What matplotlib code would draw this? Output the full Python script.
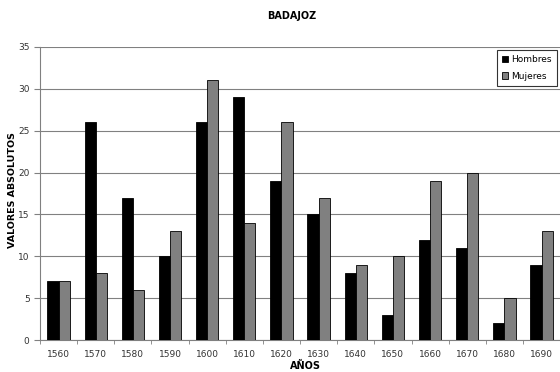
import numpy as np
import matplotlib.pyplot as plt

# Datos
anios = ["1560", "1570", "1580", "1590", "1600", "1610", "1620",
         "1630", "1640", "1650", "1660", "1670", "1680", "1690"]
hombres = [7, 26, 17, 10, 26, 29, 19, 15, 8, 3, 12, 11, 2, 9]
mujeres = [7, 8, 6, 13, 31, 14, 26, 17, 9, 10, 19, 20, 5, 13]

x = np.arange(len(anios))
w = 0.3

fig = plt.figure(figsize=(5.6, 3.72), dpi=100)
fig.patch.set_facecolor("white")

# the plot area runs past the right edge of the picture
ax = fig.add_axes([40 / 560, 32 / 372, 15 * 37.15 / 560, 293 / 372])

ax.bar(x - w / 2, hombres, w, color="black", edgecolor="black", linewidth=0.6,
       label="Hombres", zorder=3)
ax.bar(x + w / 2, mujeres, w, color="#808080", edgecolor="black", linewidth=0.6,
       label="Mujeres", zorder=3)

ax.set_xlim(-0.5, 14.5)
ax.set_ylim(0, 35)
ax.set_yticks(range(0, 36, 5))
ax.yaxis.grid(True, color="#808080", linewidth=0.8, zorder=0)

# group labels centred, tick marks between groups
ax.set_xticks(x)
ax.set_xticklabels(anios, fontsize=6.5, color="#333333")
ax.set_xticks(np.arange(-0.5, 14.5, 1), minor=True)
ax.tick_params(axis="x", which="major", length=0, pad=7)
ax.tick_params(axis="x", which="minor", length=3, color="#808080", direction="out")
ax.tick_params(axis="y", labelsize=6.5, labelcolor="#333333", length=4,
               color="#808080", direction="out")

for s in ["top", "right"]:
    ax.spines[s].set_visible(False)
ax.spines["left"].set_color("#808080")
ax.spines["bottom"].set_color("#808080")

fig.text(292 / 560, 1 - 16 / 372, "BADAJOZ", ha="center", va="center",
         fontsize=7, fontweight="bold")
fig.text(13 / 560, 1 - 190 / 372, "VALORES ABSOLUTOS", ha="center", va="center",
         rotation=90, fontsize=6.8, fontweight="bold")
fig.text(305 / 560, 1 - 366 / 372, "AÑOS", ha="center", va="center",
         fontsize=7, fontweight="bold")

leg = fig.legend(loc="upper right", bbox_to_anchor=(557 / 560, 1 - 50 / 372),
                 fontsize=6.5, frameon=True, fancybox=False, handlelength=0.7,
                 handleheight=0.7, handletextpad=0.3, borderpad=0.6,
                 labelspacing=0.8, borderaxespad=0)
leg.get_frame().set_edgecolor("black")
leg.get_frame().set_linewidth(0.8)

fig.savefig("out.png", dpi=100)
